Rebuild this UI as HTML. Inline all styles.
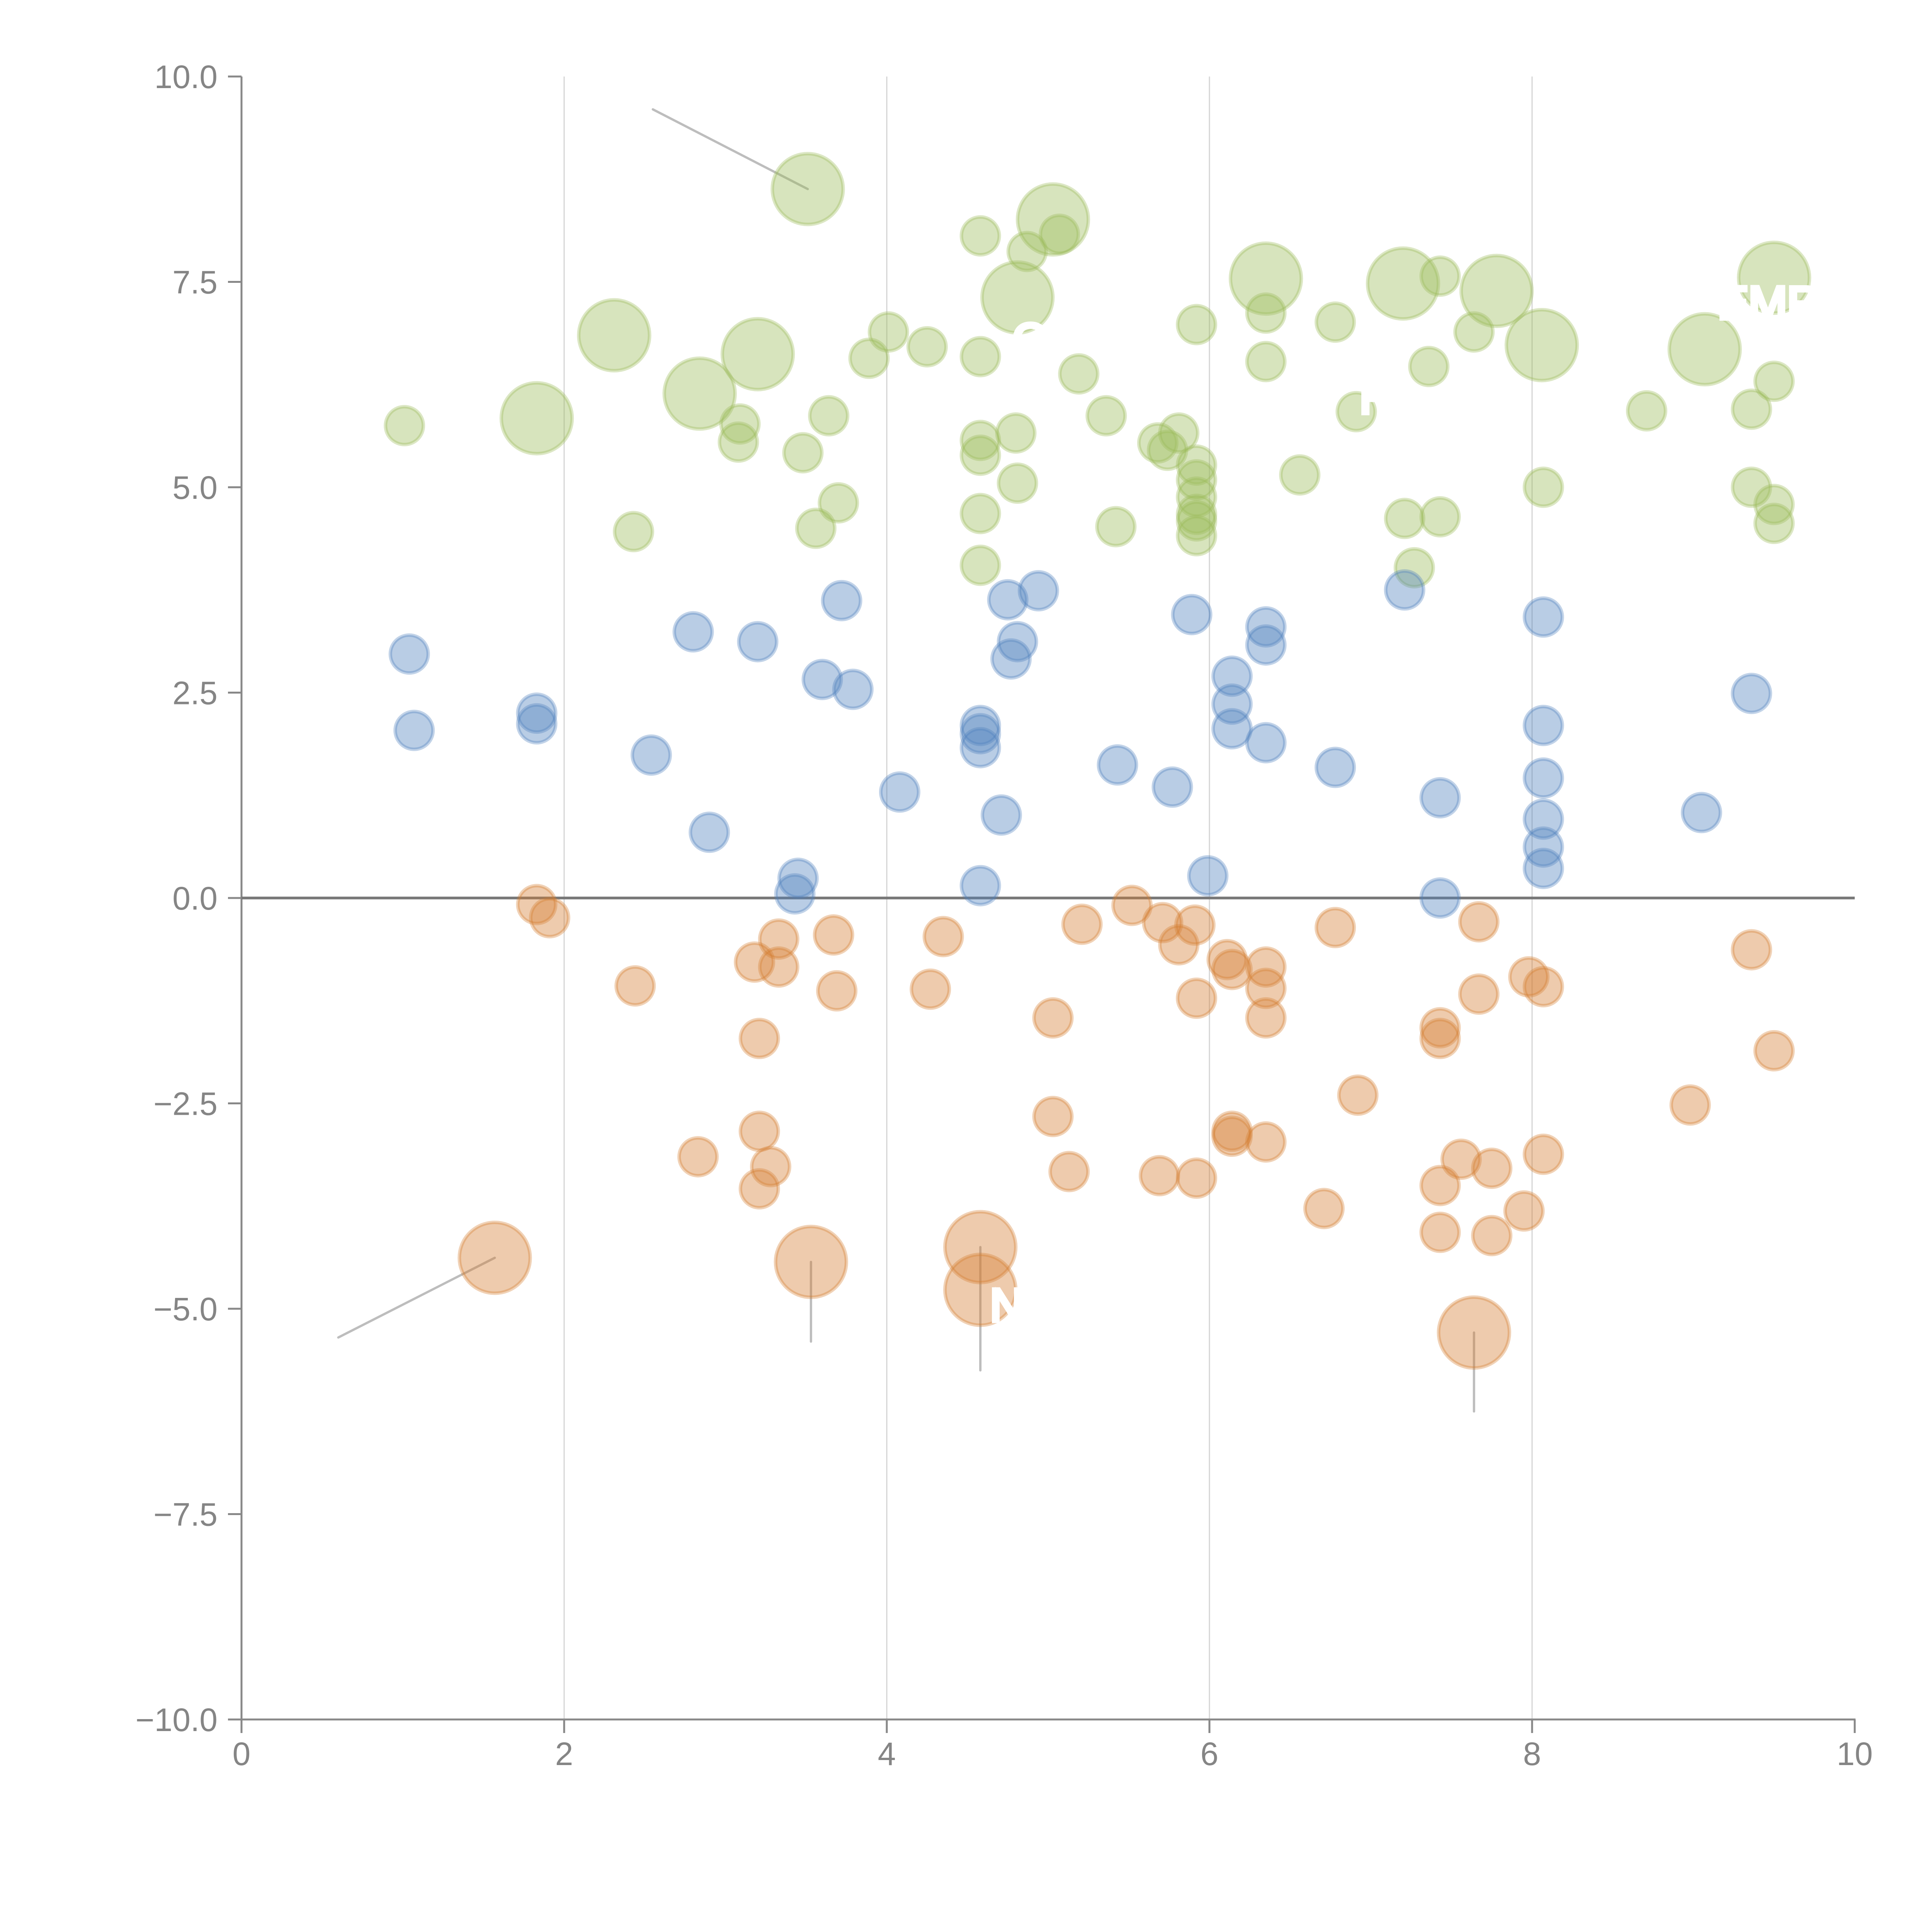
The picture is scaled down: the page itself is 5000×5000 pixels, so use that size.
<!DOCTYPE html>
<html><head><meta charset="utf-8"><style>
html,body{margin:0;padding:0;background:#fff;width:5000px;height:5000px;overflow:hidden}
svg{display:block}
text{font-family:"Liberation Sans",sans-serif}
</style></head><body>
<svg id="chart" width="5000" height="5000" viewBox="0 0 5000 5000" xmlns="http://www.w3.org/2000/svg">
<g id="grid"></g>
<g id="axes"></g>
<g id="leaders"></g>
<g id="marks"></g>
<g id="labels"></g>
</svg>
<script>
const xTicks = [0, 2, 4, 6, 8, 10];
const xTickLabels = ["0", "2", "4", "6", "8", "10"];
const yTicks = [10, 7.5, 5, 2.5, 0, -2.5, -5, -7.5, -10];
const yTickLabels = ["10.0", "7.5", "5.0", "2.5", "0.0", "\u22122.5", "\u22125.0", "\u22127.5", "\u221210.0"];

const greenX = [1.01,1.83,2.31,2.43,2.84,3.09,3.08,3.20,3.48,3.51,3.56,3.64,3.70,3.89,4.01,4.25,4.58,4.58,4.58,4.58,4.58,4.58,4.81,4.87,5.03,5.07,4.80,4.81,5.19,5.36,5.42,5.68,5.74,5.81,5.92,5.92,5.92,5.92,5.92,5.92,5.92,6.35,6.35,6.35,6.56,6.78,6.91,7.20,7.21,7.27,7.36,7.43,7.43,7.64,7.78,8.06,8.07,8.71,9.07,9.36,9.36,9.50,9.50,9.50,9.50];
const greenY = [5.75,5.84,6.85,4.46,6.14,5.77,5.55,6.62,5.42,8.63,4.50,5.87,4.81,6.57,6.89,6.71,8.06,6.59,5.57,5.39,4.68,4.05,7.31,7.87,8.26,8.08,5.66,5.05,6.38,5.87,4.52,5.54,5.45,5.66,6.98,5.27,5.09,4.88,4.67,4.59,4.41,7.54,7.12,6.53,5.15,7.01,5.92,7.48,4.62,4.02,6.47,7.57,4.64,6.89,7.39,6.73,5.00,5.93,6.68,5.95,5.00,7.55,6.29,4.79,4.56];
const greenSize = [1,3.5,3.5,1,3.5,1,1,3.5,1,3.5,1,1,1,1,1,1,1,1,1,1,1,1,3.5,1,3.5,1,1,1,1,1,1,1,1,1,1,1,1,1,1,1,1,3.5,1,1,1,1,1,3.5,1,1,1,1,1,1,3.5,3.5,1,1,3.5,1,1,3.5,1,1,1];

const blueX = [1.04,1.07,1.83,1.83,2.54,2.80,2.90,3.20,3.45,3.43,3.60,3.72,3.79,4.08,4.58,4.58,4.58,4.58,4.71,4.75,4.81,4.77,4.94,5.43,5.77,5.89,5.99,6.14,6.14,6.14,6.35,6.35,6.35,6.78,7.21,7.43,7.43,8.07,8.07,8.07,8.07,8.07,8.07,9.05,9.36];
const blueY = [2.97,2.04,2.25,2.12,1.74,3.24,0.80,3.12,0.24,0.05,2.66,3.62,2.54,1.29,2.10,2.00,1.83,0.15,1.01,3.63,3.12,2.91,3.74,1.62,1.35,3.45,0.27,2.70,2.36,2.06,3.30,3.08,1.89,1.59,3.75,1.22,0.00,3.42,2.10,1.46,0.96,0.62,0.36,1.04,2.49];

const orangeX = [1.83,1.91,1.57,2.44,2.83,3.18,3.21,3.21,3.21,3.28,3.33,3.33,3.53,3.67,3.69,4.27,4.35,4.58,4.58,5.03,5.03,5.13,5.21,5.52,5.69,5.71,5.81,5.91,5.92,5.92,6.11,6.14,6.14,6.14,6.35,6.35,6.35,6.35,6.71,6.78,6.92,7.43,7.43,7.43,7.43,7.56,7.64,7.67,7.67,7.75,7.75,7.95,7.98,8.07,8.07,8.98,9.36,9.50];
const orangeY = [-0.08,-0.24,-4.38,-1.07,-3.15,-0.78,-1.71,-2.84,-3.54,-3.27,-0.50,-0.84,-4.43,-0.45,-1.13,-1.11,-0.47,-4.25,-4.77,-1.46,-2.66,-3.33,-0.32,-0.09,-3.38,-0.30,-0.57,-0.33,-1.22,-3.41,-0.75,-0.87,-2.84,-2.90,-0.84,-1.10,-1.46,-2.97,-3.78,-0.36,-2.40,-1.58,-1.71,-3.50,-4.07,-3.18,-5.29,-0.29,-1.17,-3.29,-4.11,-3.81,-0.96,-1.08,-3.12,-2.52,-0.63,-1.86];
const orangeSize = [1,1,3.5,1,1,1,1,1,1,1,1,1,3.5,1,1,1,1,3.5,3.5,1,1,1,1,1,1,1,1,1,1,1,1,1,1,1,1,1,1,1,1,1,1,1,1,1,1,1,3.5,1,1,1,1,1,1,1,1,1,1,1];

const NS = "http://www.w3.org/2000/svg";
const X0 = 625, X1 = 4800, YT = 198, YB = 4450;
function px(x){ return X0 + (x - 0) / 10 * (X1 - X0); }
function py(y){ return YB - (y + 10) / 20 * (YB - YT); }
function rad(s){ return 49 * Math.sqrt(s); }
function mk(tag, attrs, parent){
  const e = document.createElementNS(NS, tag);
  for (const k in attrs) e.setAttribute(k, attrs[k]);
  parent.appendChild(e); return e;
}
const grid = document.getElementById('grid');
const axes = document.getElementById('axes');
const marks = document.getElementById('marks');
const leaders = document.getElementById('leaders');
const labels = document.getElementById('labels');

xTicks.forEach((t, i) => {
  if (t > 0 && t < 10) {
    const g = mk('line', {x1: px(t), x2: px(t), y1: YT, y2: YB, stroke: '#d4d4d4', 'stroke-width': 3}, grid);
    
    
  }
  const tk = mk('line', {x1: px(t), x2: px(t), y1: YB, y2: YB + 35, stroke: '#888', 'stroke-width': 5}, axes);
  
  
  const tl = mk('text', {x: px(t), y: 4568, 'text-anchor': 'middle', 'font-size': 84, fill: '#858585'}, axes);
  tl.textContent = xTickLabels[i];
  
  
});
yTicks.forEach((t, i) => {
  const tk = mk('line', {x1: X0 - 35, x2: X0, y1: py(t), y2: py(t), stroke: '#888', 'stroke-width': 5}, axes);
  
  
  const tl = mk('text', {x: 563, y: py(t) + 30, 'text-anchor': 'end', 'font-size': 84, fill: '#858585'}, axes);
  tl.textContent = yTickLabels[i];
  
  
});
const ya = mk('line', {x1: X0, x2: X0, y1: YT, y2: YB + 2, stroke: '#888', 'stroke-width': 5}, axes);


const xa = mk('line', {x1: X0 - 2, x2: X1 + 2, y1: YB, y2: YB, stroke: '#888', 'stroke-width': 5}, axes);


const zl = mk('line', {x1: X0, x2: X1, y1: py(0), y2: py(0), stroke: '#777', 'stroke-width': 7}, axes);



function drawSeries(xs, ys, sizes, color, name){
  xs.forEach((x, i) => {
    const s = sizes ? sizes[i] : 1;
    const c = mk('circle', {cx: px(x), cy: py(ys[i]), r: rad(s), fill: color, 'fill-opacity': 0.4, stroke: color, 'stroke-opacity': 0.35, 'stroke-width': 9}, marks);
    
    
  });
}
drawSeries(greenX, greenY, greenSize, '#9bbb59', 'green-bubble');
drawSeries(blueX, blueY, null, '#4f81bd', 'blue-bubble');
drawSeries(orangeX, orangeY, orangeSize, '#d47d32', 'orange-bubble');

// leader lines (gray) from big bubbles to outside labels
const leaderFrom = [[3.51, 8.63], [1.57, -4.38], [3.53, -4.43], [4.58, -4.25], [7.64, -5.29]];
const leaderTo = [[2.55, 9.60], [0.60, -5.35], [3.53, -5.40], [4.58, -5.75], [7.64, -6.25]];
leaderFrom.forEach((p, i) => {
  const l = mk('line', {x1: px(p[0]), y1: py(p[1]), x2: px(leaderTo[i][0]), y2: py(leaderTo[i][1]), stroke: '#bdbdbd', 'stroke-width': 6, 'stroke-linecap': 'round'}, leaders);
  
  
});
// white labels (mostly invisible on white background)
const labelText = ["EMR", "N", "O", "R", "D"];
const labelX = [9.15, 4.64, 4.78, 6.93, 4.00];
const labelY = [7.05, -5.15, 6.60, 5.90, 4.20];
labelText.forEach((t, i) => {
  const tx = mk('text', {x: px(labelX[i]), y: py(labelY[i]), 'font-size': 120, fill: '#fff', stroke: '#fff', 'stroke-width': 10}, labels);
  tx.textContent = t;
  
  
});
</script>
</body></html>
